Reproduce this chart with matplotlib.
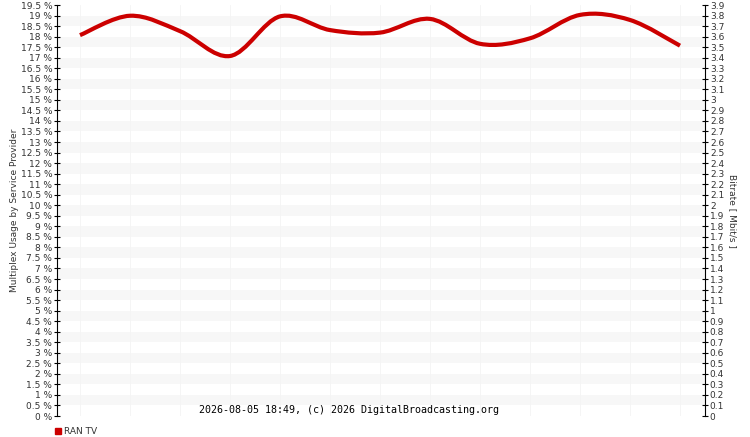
import numpy as np
import matplotlib
matplotlib.use('Agg')
import matplotlib.pyplot as plt
from matplotlib.path import Path
from matplotlib.patches import PathPatch, Rectangle

# Multiplex share of the one service provider, sampled at regular times
usage_pct = [18.07, 18.99, 18.26, 17.08, 18.96, 18.31, 18.19,
             18.84, 17.66, 17.92, 19.03, 18.79, 17.57]
provider = 'RAN TV'
footer = '2026-08-05 18:49, (c) 2026 DigitalBroadcasting.org'

left_ticks = np.arange(0, 19.51, 0.5)
left_labels = [f'{t:g} %' for t in left_ticks]
right_ticks = np.arange(0, 3.91, 0.1)
right_labels = [f'{t:.1f}'.rstrip('0').rstrip('.') if t > 0 else '0' for t in right_ticks]

line_color = '#cc0000'
text_color = '#333333'

fig = plt.figure(figsize=(7.5, 4.37), dpi=100)
ax = fig.add_axes([57 / 750, 1 - 416 / 437, 648 / 750, 411 / 437])

n = len(usage_pct)
ax.set_xlim(-0.46, n - 1 + 0.5)
ax.set_ylim(0, 19.5)

# alternating bands
for k in np.arange(0, 19.5, 1.0):
    ax.axhspan(k + 0.5, k + 1.0, color='#f7f7f7', lw=0, zorder=0)
for i in range(n):
    ax.axvline(i, color='#f4f4f4', lw=0.6, zorder=0.5)

# smooth curve through the samples (catmull-rom as bezier segments)
xs = np.arange(n)
ys = np.array(usage_pct)
verts = [(xs[0], ys[0])]
codes = [Path.MOVETO]
for i in range(n - 1):
    p0 = (xs[max(i - 1, 0)], ys[max(i - 1, 0)])
    p1 = (xs[i], ys[i])
    p2 = (xs[i + 1], ys[i + 1])
    p3 = (xs[min(i + 2, n - 1)], ys[min(i + 2, n - 1)])
    c1 = (p1[0] + (p2[0] - p0[0]) / 6, p1[1] + (p2[1] - p0[1]) / 6)
    c2 = (p2[0] - (p3[0] - p1[0]) / 6, p2[1] - (p3[1] - p1[1]) / 6)
    verts += [c1, c2, p2]
    codes += [Path.CURVE4] * 3
ax.add_patch(PathPatch(Path(verts, codes), fill=False, edgecolor=line_color,
                       lw=3.0, capstyle='butt', zorder=3))

for s in ['top', 'bottom', 'right']:
    ax.spines[s].set_visible(False)
ax.spines['left'].set_color('black')
ax.set_xticks([])
ax.set_yticks(left_ticks)
ax.set_yticklabels(left_labels)
ax.tick_params(axis='y', direction='inout', length=5, width=0.8, pad=1,
               labelsize=6.5, labelcolor=text_color)
ax.set_ylabel('Multiplex Usage by Service Provider', fontsize=6.5,
              color=text_color, labelpad=1)

ax2 = ax.twinx()
ax2.set_ylim(0, 3.9)
for s in ['top', 'bottom', 'left']:
    ax2.spines[s].set_visible(False)
ax2.spines['right'].set_color('black')
ax2.set_yticks(right_ticks)
ax2.set_yticklabels(right_labels)
ax2.tick_params(axis='y', direction='inout', length=5, width=0.8, pad=1,
                labelsize=6.5, labelcolor=text_color)
ax2.set_ylabel('Bitrate [ Mbit/s ]', fontsize=6.5, color=text_color,
               rotation=270, labelpad=9)

fig.text(349 / 750, 1 - 410 / 437, footer, family='DejaVu Sans Mono',
         fontsize=7.2, ha='center', va='center', color='black')

# legend
fig.patches.append(Rectangle((55 / 750, 1 - 434 / 437), 6 / 750, 6 / 437,
                             transform=fig.transFigure, color=line_color))
fig.text(64 / 750, 1 - 431 / 437, provider, fontsize=6.5, color=text_color,
         va='center')

fig.savefig('out.png', dpi=100)
